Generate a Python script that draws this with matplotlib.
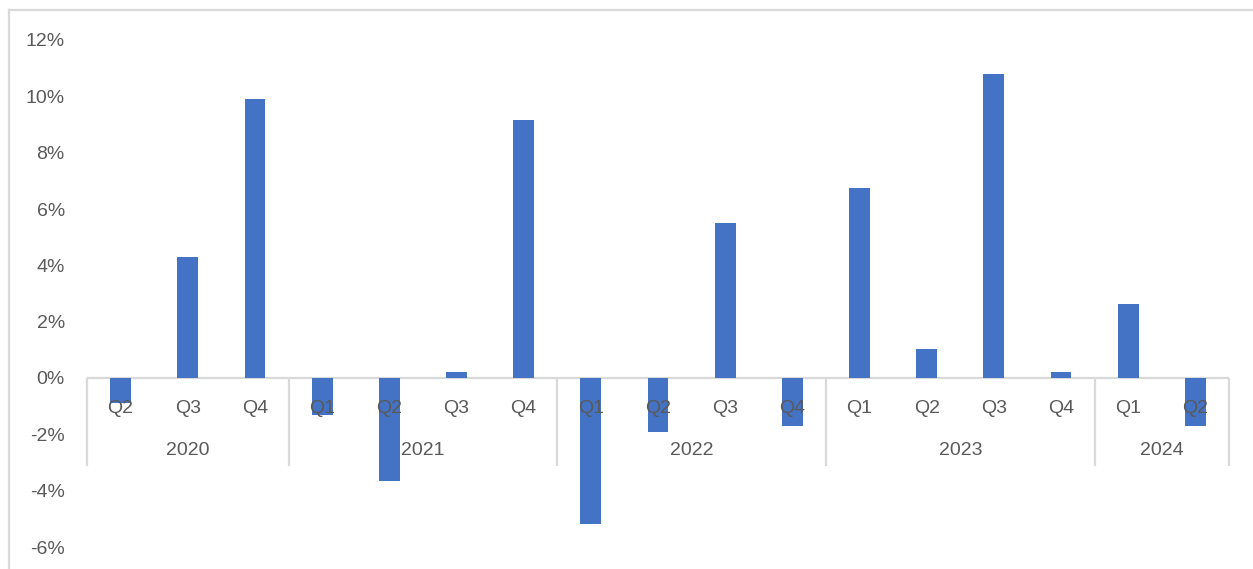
import matplotlib
matplotlib.use("Agg")
import matplotlib.pyplot as plt
from matplotlib.lines import Line2D

# Quarterly change, percent
years = ["2020", "2021", "2022", "2023", "2024"]
quarters_per_year = [["Q2", "Q3", "Q4"],
                     ["Q1", "Q2", "Q3", "Q4"],
                     ["Q1", "Q2", "Q3", "Q4"],
                     ["Q1", "Q2", "Q3", "Q4"],
                     ["Q1", "Q2"]]
values = [-0.9, 4.3, 9.9,
          -1.3, -3.65, 0.2, 9.15,
          -5.2, -1.9, 5.5, -1.7,
          6.75, 1.03, 10.8, 0.2,
          2.63, -1.7]
y_ticks = [-6, -4, -2, 0, 2, 4, 6, 8, 10, 12]
y_tick_labels = ["-6%", "-4%", "-2%", "0%", "2%", "4%", "6%", "8%", "10%", "12%"]

BAR = "#4472C4"
TEXT = "#595959"
GRID = "#D9D9D9"
FONT = "Liberation Sans"
FS = 14

W, H = 1253, 569
fig = plt.figure(figsize=(W / 100, H / 100), dpi=100)

# outer chart frame (top and left edges)
fig.add_artist(Line2D([9 / W, 1.0], [1 - 10 / H, 1 - 10 / H], color=GRID, lw=1.6,
                      transform=fig.transFigure))
fig.add_artist(Line2D([9 / W, 9 / W], [0.0, 1 - 10 / H], color=GRID, lw=1.6,
                      transform=fig.transFigure))

ax = fig.add_axes([87 / W, (H - 547) / H, (1229 - 87) / W, (547 - 40) / H])

n = len(values)
x = list(range(n))
ax.bar(x, values, width=0.31, color=BAR, zorder=2)

ax.set_xlim(-0.5, n - 0.5)
ax.set_ylim(-6, 12)
for s in ax.spines.values():
    s.set_visible(False)
ax.set_xticks([])
ax.set_yticks(y_ticks)
ax.set_yticklabels(y_tick_labels, fontsize=FS, color=TEXT, family=FONT)
ax.tick_params(axis="y", length=0, pad=16)

# zero line
ax.axhline(0, color=GRID, lw=1.6, zorder=1)

# two-level category axis
sep_bottom = -3.12
quarter_y = -1.07
year_y = -2.56
pos = 0
bounds = [-0.5]
for yr, qs in zip(years, quarters_per_year):
    start = pos
    for q in qs:
        ax.text(pos, quarter_y, q, ha="center", va="center", fontsize=FS,
                color=TEXT, family=FONT, zorder=3)
        pos += 1
    ax.text((start + pos - 1) / 2, year_y, yr, ha="center", va="center",
            fontsize=FS, color=TEXT, family=FONT, zorder=3)
    bounds.append(pos - 0.5)
ax.vlines(bounds, sep_bottom, 0, colors=GRID, lw=1.6, zorder=1, clip_on=False)

fig.savefig("out.png", dpi=100)
